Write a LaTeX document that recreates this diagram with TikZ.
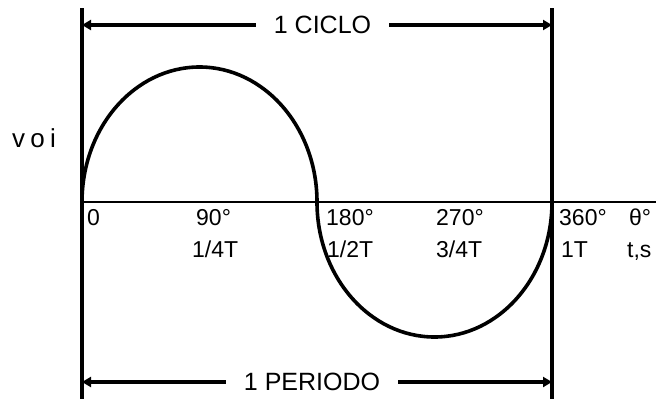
\documentclass[tikz,border=0pt]{standalone}
\usepackage{fontspec}
\setmainfont{Liberation Sans}
\usepackage{tikz}
\usetikzlibrary{arrows.meta,positioning,calc}

\begin{document}
\begin{tikzpicture}[x=1pt,y=-1pt,
  vline/.style={line width=4pt},
  axis/.style={line width=2.6pt},
  wave/.style={line width=3.6pt},
  dim/.style={-{Triangle[length=9pt,width=10pt]},line width=3.6pt},
  lbl/.style={inner sep=0pt,anchor=base west,font=\fontsize{23}{25}\selectfont},
  ttl/.style={inner xsep=18pt,inner ysep=0pt,font=\fontsize{25}{27}\selectfont}
]
\useasboundingbox (0,0) rectangle (656,399);
% frame of one cycle
\coordinate (ltop) at (82,8);
\coordinate (lbot) at (82,399);
\coordinate (rtop) at (552,8);
\coordinate (rbot) at (552,399);
\coordinate (org) at (82,202);
\coordinate (axend) at (656,202);
\draw[vline] (ltop) -- (lbot);
\draw[vline] (rtop) -- (rbot);
\draw[axis] (org) -- (axend);
% the wave
\draw[wave] (org) arc[start angle=180,end angle=0,x radius=117.5pt,y radius=135pt]
  arc[start angle=180,end angle=360,x radius=117.5pt,y radius=135pt];
% dimension lines
\node[ttl] (ciclo) at (322.5,25) {1 CICLO};
\node[ttl] (periodo) at (312,382) {1 PERIODO};
\draw[dim] (ciclo.west) -- (ciclo.west -| ltop);
\draw[dim] (ciclo.east) -- (ciclo.east -| rtop);
\draw[dim] (periodo.west) -- (periodo.west -| lbot);
\draw[dim] (periodo.east) -- (periodo.east -| rbot);
% labels
\node[inner sep=0pt,anchor=base west,font=\fontsize{26}{28}\selectfont\addfontfeature{LetterSpace=20}] (voi) at (12,147) {voi};
\node[lbl] (d0) at (87,225) {0};
\node[lbl] (d90) at (196,225) {90°};
\node[lbl] (d180) at (326,225) {180°};
\node[lbl] (d270) at (436,225) {270°};
\node[lbl] (d360) at (559,225) {360°};
\node[lbl] (theta) at (629,225) {θ°};
\node[lbl] (t14) at (192,257) {1/4T};
\node[lbl] (t12) at (327,257) {1/2T};
\node[lbl] (t34) at (436,257) {3/4T};
\node[lbl] (t1) at (561,257) {1T};
\node[lbl] (ts) at (627,257) {t,s};
\end{tikzpicture}
\end{document}
